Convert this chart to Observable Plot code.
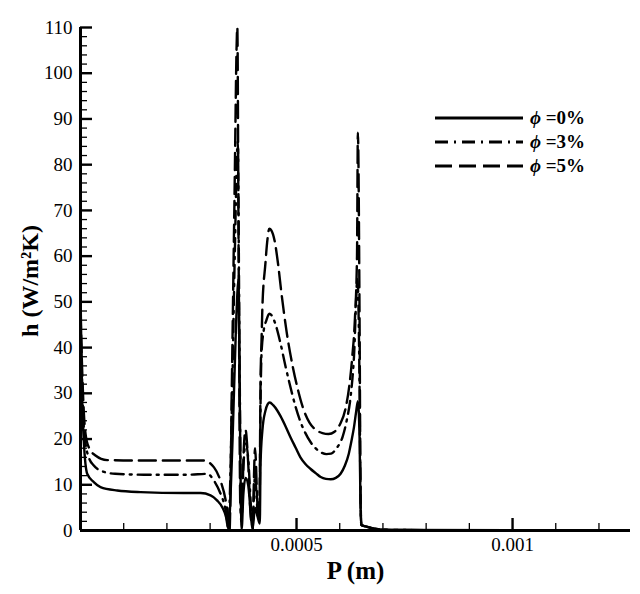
<!DOCTYPE html>
<html>
<head>
<meta charset="utf-8">
<script src="https://cdn.jsdelivr.net/npm/d3@7"></script>
<script src="https://cdn.jsdelivr.net/npm/@observablehq/plot@0.6"></script>
<style>
  body { margin: 0; background: #fff; }
  #wrap { position: relative; width: 640px; height: 594px; }
  #legend { position: absolute; left: 435px; top: 106px; font-family: "Liberation Serif", "Times New Roman", serif; font-weight: bold; font-size: 19px; }
  .row { display: flex; align-items: center; height: 24px; }
  .row svg { margin-right: 7px; }
  .phi { font-style: italic; }
</style>
</head>
<body>
<div id="wrap">
  <div id="chart"></div>
  <div id="legend"></div>
</div>
<script>
// ---- data ----
const seriesNames = ["\u03d5 =0%", "\u03d5 =3%", "\u03d5 =5%"];

const P0 = [0, 0.0000039, 0.0000076, 0.0000155, 0.0000308, 0.0000463, 0.000085, 0.000139, 0.000239, 0.000278, 0.000301, 0.000316, 0.000328, 0.000337, 0.000342,
  0.000352, 0.000360, 0.000366, 0.000369, 0.000373, 0.000377, 0.000382, 0.000388, 0.000393, 0.000398, 0.000404, 0.00041, 0.000415,
  0.0004167, 0.000421, 0.000428, 0.000433, 0.000438, 0.000446, 0.000455, 0.000463, 0.000475, 0.000486, 0.000498, 0.000509, 0.000520, 0.000532, 0.000545, 0.000556, 0.000568, 0.000579, 0.000591, 0.000602, 0.000612, 0.000621, 0.000627, 0.000633, 0.000638, 0.000642,
  0.000646, 0.000648, 0.00065, 0.00066, 0.00068, 0.000694, 0.00075, 0.00128];
const H0 = [52, 28.4, 19.7, 12.4, 10.6, 9.5, 8.75, 8.4, 8.2, 8.2, 7.7, 6.6, 5.1, 2.9, 0.4,
  20, 45, 55, 25, 0.3, 8, 11.5, 10, 5, 0.2, 5, 3, 1.5,
  14.6, 21.9, 26.2, 27.6, 28, 27.4, 26.3, 25.0, 22.7, 20.4, 18.1, 16.0, 14.6, 13.5, 12.5, 11.7, 11.3, 11.2, 11.5, 12.4, 14.2, 16.8, 19.5, 22.6, 26.0, 28.3,
  20, 6, 1.2, 0.9, 0.4, 0.2, 0.1, 0];

const P3 = [0, 0.0000039, 0.0000076, 0.0000116, 0.0000192, 0.0000308, 0.0000463, 0.00008, 0.00015, 0.00025, 0.000293, 0.000311, 0.000324, 0.000336, 0.000342,
  0.000350, 0.000357, 0.000364, 0.000368, 0.000372, 0.000377, 0.000382, 0.000388, 0.000394, 0.000398, 0.000404, 0.00041, 0.000414,
  0.000417, 0.000419, 0.000424, 0.000430, 0.000437, 0.000444, 0.000451, 0.000463, 0.000475, 0.000483, 0.000498, 0.000509, 0.000520, 0.000532, 0.000545, 0.000558, 0.000569, 0.000580, 0.000592, 0.000607, 0.000616, 0.000625, 0.000633, 0.000641,
  0.000646, 0.000648, 0.00065, 0.00066, 0.00068, 0.000694, 0.00075, 0.00128];
const H3 = [45, 32, 22.6, 19, 16, 14.2, 13.1, 12.4, 12.2, 12.2, 12.4, 10.6, 8.1, 4.4, 0.7,
  25, 60, 85, 40, 2, 14, 19, 16, 6, 1, 12, 4, 2,
  30, 38.7, 43.7, 45.9, 47.4, 46.8, 45.2, 40.9, 35.7, 32.5, 27.0, 23.8, 21.4, 19.4, 17.9, 17.0, 16.7, 16.8, 17.9, 20.6, 24.0, 29.1, 38, 55,
  30, 8, 1.2, 0.9, 0.4, 0.2, 0.1, 0];

const P5 = [0, 0.0000039, 0.0000076, 0.0000116, 0.0000192, 0.0000347, 0.0000617, 0.00012, 0.00022, 0.000285, 0.000309, 0.000324, 0.000336, 0.000342, 0.000345,
  0.000350, 0.000356, 0.000363, 0.000366, 0.00037, 0.000373, 0.000378, 0.000382, 0.000388, 0.000394, 0.000398, 0.000404, 0.00041, 0.000414,
  0.0004167, 0.000419, 0.000421, 0.000428, 0.000432, 0.000437, 0.000442, 0.000449, 0.000457, 0.000465, 0.000477, 0.000492, 0.000504, 0.000515, 0.000530, 0.000545, 0.000560, 0.000574, 0.000588, 0.000601, 0.000613, 0.000622, 0.000629, 0.000635, 0.000640, 0.000642,
  0.000646, 0.000648, 0.00065, 0.00066, 0.00068, 0.000694, 0.00075, 0.00128];
const H5 = [48, 35, 26, 21.2, 18.2, 16.4, 15.4, 15.3, 15.3, 15.3, 13.8, 10.9, 6.6, 2.9, 0,
  30, 70, 110, 60, 5, 3, 18, 22, 15, 3, 1, 18, 5, 3,
  32.8, 41.5, 48.8, 58.4, 63, 66, 65.6, 63.5, 58.5, 52, 43.5, 35.5, 30.5, 26.8, 23.6, 22.0, 21.3, 21.1, 21.6, 23.3, 26.5, 31.5, 38, 46, 60, 87,
  45, 10, 1.2, 0.9, 0.4, 0.2, 0.1, 0];

const yTicks = [0, 10, 20, 30, 40, 50, 60, 70, 80, 90, 100, 110];
const yMinorTicks = d3.range(0, 111, 2).filter(v => v % 10 !== 0);
const xTicks = [0.0005, 0.001];
const xTickLabels = ["0.0005", "0.001"];
const xMinorTicks = [0.0001, 0.0002, 0.0003, 0.0004, 0.0006, 0.0007, 0.0008, 0.0009, 0.0011, 0.0012];

// ---- build table ----
const raw = [[P0, H0], [P3, H3], [P5, H5]];
const data = raw.flatMap(([P, H], i) => P.map((p, j) => ({p, h: H[j], s: seriesNames[i]})));

const dashes = [null, "13,6,2,6", "17,7"];

const W = 640, H = 594;
const margin = {top: 27, right: 10, bottom: 64, left: 80};
const fw = W - margin.left - margin.right;
const fh = H - margin.top - margin.bottom;
const font = '"Liberation Serif", "Times New Roman", serif';

const chart = Plot.plot({
  width: W, height: H,
  marginTop: margin.top, marginRight: margin.right, marginBottom: margin.bottom, marginLeft: margin.left,
  style: {fontFamily: font, background: "#fff", color: "#000"},
  x: {domain: [0, 0.001273]},
  y: {domain: [0, 110]},
  marks: [
    ...seriesNames.map((name, i) => Plot.line(data.filter(d => d.s === name), {
      x: "p", y: "h", stroke: "#000", strokeWidth: 2.4, strokeDasharray: dashes[i], clip: true, curve: "monotone-x"
    })),
    // inward ticks
    Plot.tickY(yTicks, {y: d => d, stroke: "#000", strokeWidth: 2.4, insetRight: fw - 12}),
    Plot.tickY(yMinorTicks, {y: d => d, stroke: "#000", strokeWidth: 1.3, insetRight: fw - 7}),
    Plot.tickX(xTicks, {x: d => d, stroke: "#000", strokeWidth: 2.4, insetTop: fh - 12}),
    Plot.tickX(xMinorTicks, {x: d => d, stroke: "#000", strokeWidth: 1.3, insetTop: fh - 7}),
    Plot.ruleX([0], {stroke: "#000", strokeWidth: 3}),
    Plot.ruleY([0], {stroke: "#000", strokeWidth: 3}),
    Plot.axisY({ticks: yTicks, tickSize: 0, tickPadding: 8, fontSize: 19, label: null}),
    Plot.axisX({ticks: xTicks, tickSize: 0, tickPadding: 7, fontSize: 19, label: null,
      tickFormat: d => xTickLabels[xTicks.indexOf(d)]}),
    Plot.text(["P (m)"], {frameAnchor: "bottom", dy: 48, fontSize: 25, fontWeight: "bold"}),
    Plot.text(["h (W/m\u00b2K)"], {frameAnchor: "left", textAnchor: "middle", dx: -50, dy: 2, rotate: -90, fontSize: 24, fontWeight: "bold"})
  ]
});
document.getElementById("chart").appendChild(chart);

// ---- legend ----
const legend = document.getElementById("legend");
seriesNames.forEach((name, i) => {
  const row = document.createElement("div");
  row.className = "row";
  const dash = dashes[i] ? `stroke-dasharray="${dashes[i]}"` : "";
  row.innerHTML = `<svg width="88" height="6"><line x1="0" x2="88" y1="3" y2="3" stroke="#000" stroke-width="2.8" ${dash}/></svg>` +
    `<span><span class="phi">${name.slice(0, 1)}</span>${name.slice(1)}</span>`;
  legend.appendChild(row);
});
</script>
</body>
</html>
